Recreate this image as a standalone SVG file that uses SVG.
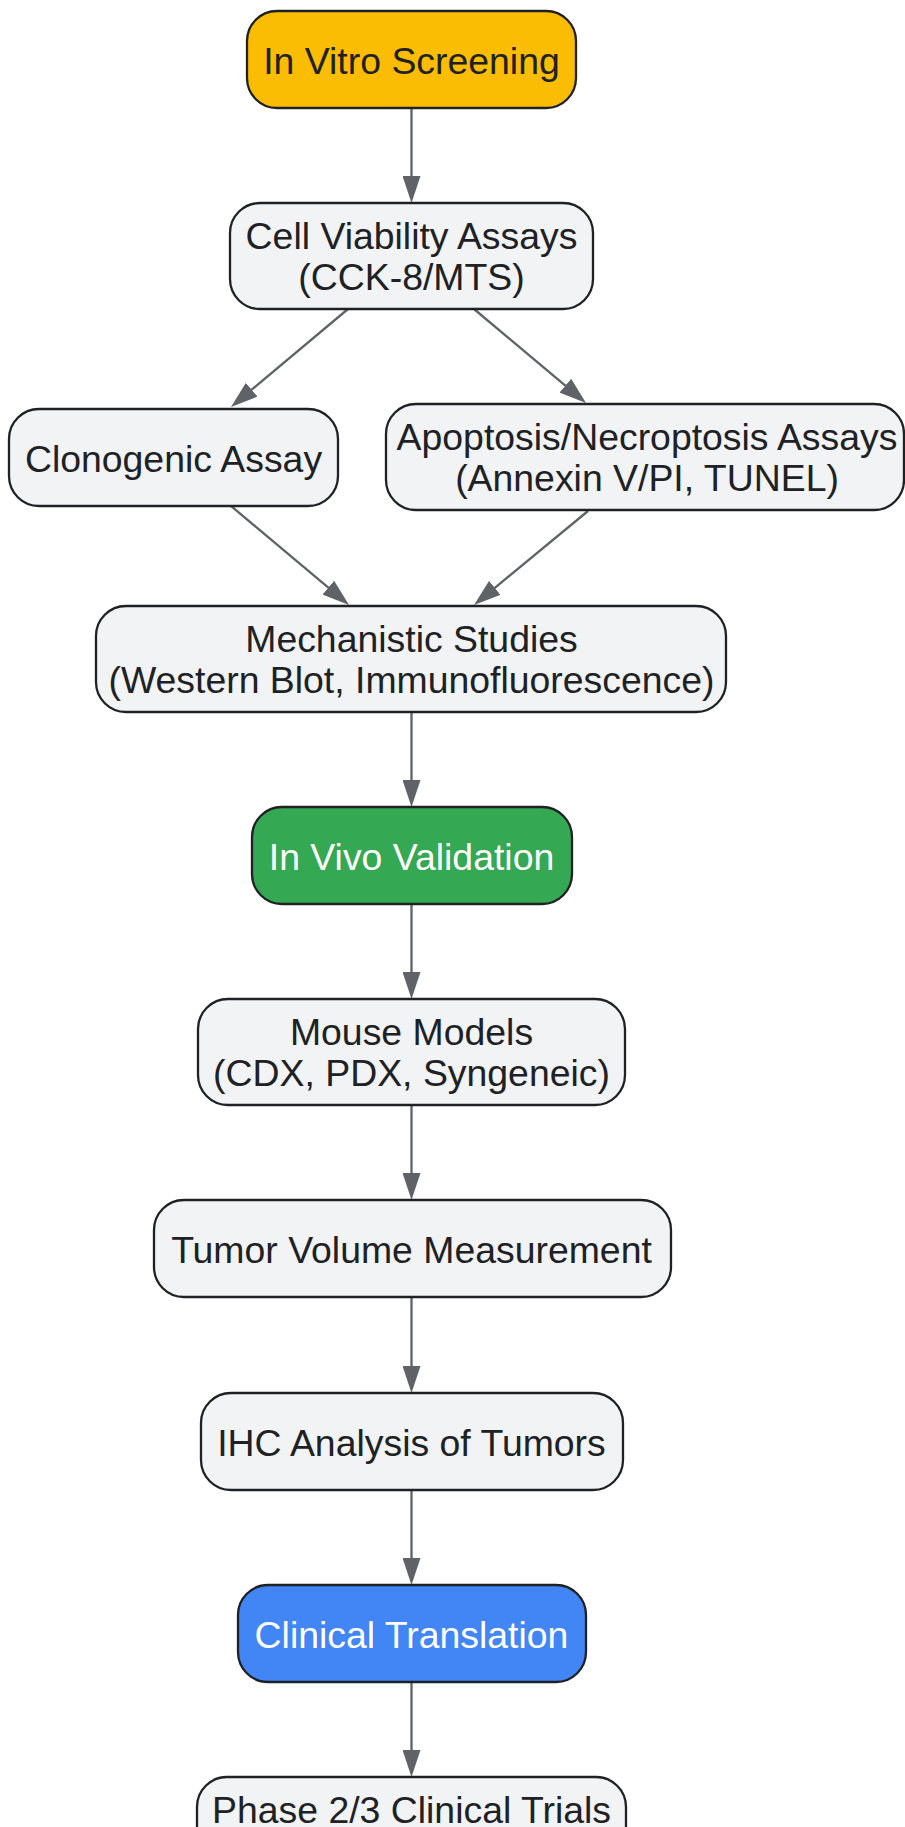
<svg xmlns="http://www.w3.org/2000/svg" width="905" height="1827" viewBox="0 0 905 1827">
<style>
.n{stroke:#202124;stroke-width:2.3}
.g{fill:#F1F3F4}
.t{font-family:"Liberation Sans",Arial,sans-serif;font-size:37.4px;fill:#202124;text-anchor:middle}
.w{fill:#FFFFFF}
.e{stroke:#5F6368;stroke-width:2.3;fill:none;marker-end:url(#arr)}
</style>
<defs>
<marker id="arr" viewBox="0 0 27 18" markerUnits="userSpaceOnUse" markerWidth="27" markerHeight="18" refX="7" refY="9" orient="auto">
<path d="M0,0 L27,9 L0,18 z" fill="#5F6368"/>
</marker>
</defs>
<rect width="905" height="1827" fill="#FFFFFF"/>
<g id="edges">
<line class="e" x1="411.5" y1="108" x2="411.5" y2="183"/>
<line class="e" x1="348" y1="309" x2="246.3" y2="394.2"/>
<line class="e" x1="474" y1="309" x2="570.7" y2="390.1"/>
<line class="e" x1="231" y1="506" x2="333.7" y2="592.1"/>
<line class="e" x1="588" y1="511" x2="489.4" y2="592.3"/>
<line class="e" x1="411.5" y1="712" x2="411.5" y2="787"/>
<line class="e" x1="411.5" y1="904" x2="411.5" y2="979"/>
<line class="e" x1="411.5" y1="1105" x2="411.5" y2="1180"/>
<line class="e" x1="411.5" y1="1297" x2="411.5" y2="1373"/>
<line class="e" x1="411.5" y1="1490" x2="411.5" y2="1565"/>
<line class="e" x1="411.5" y1="1682" x2="411.5" y2="1757"/>
</g>
<g id="invitro">
<rect class="n" x="247" y="11" width="329" height="97" rx="30" fill="#FBBC04"/>
<text class="t" x="411.5" y="74">In Vitro Screening</text>
</g>
<g id="viability">
<rect class="n g" x="230" y="203" width="363" height="106" rx="30"/>
<text class="t" x="411.5" y="249">Cell Viability Assays</text>
<text class="t" x="411.5" y="290">(CCK-8/MTS)</text>
</g>
<g id="clonogenic">
<rect class="n g" x="9" y="409" width="329" height="97" rx="30"/>
<text class="t" x="173.5" y="472">Clonogenic Assay</text>
</g>
<g id="apoptosis">
<rect class="n g" x="386" y="404" width="518" height="106" rx="30"/>
<text class="t" x="647" y="450">Apoptosis/Necroptosis Assays</text>
<text class="t" x="647" y="491">(Annexin V/PI, TUNEL)</text>
</g>
<g id="mechanistic">
<rect class="n g" x="96" y="606" width="630" height="106" rx="30"/>
<text class="t" x="411.5" y="652">Mechanistic Studies</text>
<text class="t" x="411.5" y="693">(Western Blot, Immunofluorescence)</text>
</g>
<g id="invivo">
<rect class="n" x="252" y="807" width="320" height="97" rx="30" fill="#34A853"/>
<text class="t w" x="411.5" y="870">In Vivo Validation</text>
</g>
<g id="mouse">
<rect class="n g" x="198" y="999" width="427" height="106" rx="30"/>
<text class="t" x="411.5" y="1045">Mouse Models</text>
<text class="t" x="411.5" y="1086">(CDX, PDX, Syngeneic)</text>
</g>
<g id="tumor">
<rect class="n g" x="154" y="1200" width="517" height="97" rx="30"/>
<text class="t" x="411.5" y="1263">Tumor Volume Measurement</text>
</g>
<g id="ihc">
<rect class="n g" x="201" y="1393" width="422" height="97" rx="30"/>
<text class="t" x="411.5" y="1456">IHC Analysis of Tumors</text>
</g>
<g id="clinical">
<rect class="n" x="238" y="1585" width="348" height="97" rx="30" fill="#4285F4"/>
<text class="t w" x="411.5" y="1648">Clinical Translation</text>
</g>
<g id="phase">
<rect class="n g" x="197" y="1777" width="429" height="106" rx="30"/>
<text class="t" x="411.5" y="1823">Phase 2/3 Clinical Trials</text>
</g>
</svg>
